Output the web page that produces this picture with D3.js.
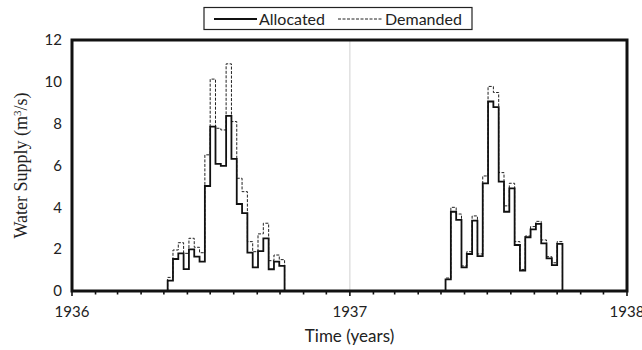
<!DOCTYPE html>
<html><head><meta charset="utf-8">
<script src="https://cdn.jsdelivr.net/npm/d3@7"></script>
<style>body{margin:0;background:#fff}svg{display:block}</style>
</head><body><svg id="c" width="642" height="350"></svg>
<script>
// ---- data ----
const years = [1936, 1937, 1938];
const yTicks = [0, 2, 4, 6, 8, 10, 12];
const start1936 = "1936-05-06";
const start1937 = "1937-05-07";
const allocated1936 = [0.50, 1.53, 1.80, 1.05, 1.99, 1.64, 1.40, 5.02, 7.86, 6.08, 5.98, 8.37, 6.32, 4.16, 3.72, 1.83, 1.13, 1.91, 2.52, 1.04, 1.40, 1.20];
const demanded1936  = [0.65, 1.96, 2.31, 1.80, 2.52, 2.09, 1.83, 6.51, 10.13, 7.78, 7.70, 10.86, 8.10, 5.39, 4.75, 2.36, 1.88, 2.73, 3.24, 1.45, 1.72, 1.50];
const allocated1937 = [0.56, 3.79, 3.40, 1.13, 1.77, 3.36, 1.67, 5.15, 9.06, 8.79, 5.23, 3.79, 4.91, 2.20, 0.97, 2.57, 2.95, 3.21, 2.28, 1.56, 1.24, 2.25];
const demanded1937  = [0.62, 4.00, 3.68, 1.20, 1.88, 3.59, 1.77, 5.50, 9.78, 9.49, 5.66, 4.07, 5.15, 2.36, 1.03, 2.63, 3.08, 3.33, 2.44, 1.64, 1.35, 2.36];

// ---- layout ----
const svg = d3.select("#c");
const m = {l: 72, r: 15, t: 40, b: 59};
const W = 642 - m.l - m.r, H = 350 - m.t - m.b;
const g = svg.append("g").attr("transform", `translate(${m.l},${m.t})`);

const x = d3.scaleTime().domain([new Date(years[0],0,1), new Date(years[years.length-1],0,1)]).range([0, W]);
const y = d3.scaleLinear().domain([0, 12]).range([H, 0]);

// gridline at middle year
g.append("line").attr("x1", x(new Date(1937,0,1))).attr("x2", x(new Date(1937,0,1)))
  .attr("y1", 0).attr("y2", H).attr("stroke", "#d0d0d0").attr("stroke-width", 1);

const parse = d3.timeParse("%Y-%m-%d");
function series(startStr, vals) {
  const s = parse(startStr);
  const pts = [{d: s, v: 0}];
  vals.forEach((v, i) => pts.push({d: d3.timeDay.offset(s, 7 * i), v}));
  pts.push({d: d3.timeDay.offset(s, 7 * vals.length), v: 0});
  return pts;
}
const line = d3.line().x(p => x(p.d)).y(p => y(p.v)).curve(d3.curveStepAfter);

[[start1936, demanded1936], [start1937, demanded1937]].forEach(([s, v]) => {
  g.append("path").datum(series(s, v)).attr("d", line).attr("fill", "none")
   .attr("stroke", "#222").attr("stroke-width", 1).attr("stroke-dasharray", "3,1.5");
});
[[start1936, allocated1936], [start1937, allocated1937]].forEach(([s, v]) => {
  g.append("path").datum(series(s, v)).attr("d", line).attr("fill", "none")
   .attr("stroke", "#111").attr("stroke-width", 1.8);
});

// month ticks
const months = d3.timeMonth.range(x.domain()[0], d3.timeDay.offset(x.domain()[1], 1));
g.selectAll(".mt").data(months).join("line")
  .attr("x1", d => x(d)).attr("x2", d => x(d))
  .attr("y1", H).attr("y2", d => H + (d.getMonth() === 0 ? 5 : 3.5))
  .attr("stroke", "#111").attr("stroke-width", 1.6);

// frame
g.append("rect").attr("x", 0).attr("y", 0).attr("width", W).attr("height", H)
  .attr("fill", "none").attr("stroke", "#111").attr("stroke-width", 3);

// labels
g.selectAll(".xl").data(years).join("text")
  .attr("x", d => x(new Date(d,0,1))).attr("y", H + 26)
  .attr("text-anchor", "middle").attr("font-family", "Lato, sans-serif").attr("font-size", 15)
  .attr("fill", "#222").text(d => d);
g.selectAll(".yl").data(yTicks).join("text")
  .attr("x", -10).attr("y", d => y(d)).attr("dy", "0.35em")
  .attr("text-anchor", "end").attr("font-family", "Lato, sans-serif").attr("font-size", 15)
  .attr("fill", "#222").text(d => d);

// axis titles
svg.append("text").attr("x", m.l + W / 2).attr("y", 342).attr("text-anchor", "middle")
  .attr("font-family", "Lato, sans-serif").attr("font-size", 17).attr("fill", "#222").text("Time (years)");
const yt = svg.append("text").attr("transform", `translate(27,${m.t + H / 2}) rotate(-90)`)
  .attr("text-anchor", "middle").attr("font-family", "'Liberation Serif', serif").attr("font-size", 18).attr("fill", "#222");
yt.append("tspan").text("Water Supply (m");
yt.append("tspan").attr("baseline-shift", "super").attr("font-size", 11).text("3");
yt.append("tspan").text("/s)");

// legend
const lg = svg.append("g");
lg.append("rect").attr("x", 204).attr("y", 7.5).attr("width", 268).attr("height", 22)
  .attr("fill", "#fff").attr("stroke", "#222").attr("stroke-width", 1.2);
lg.append("line").attr("x1", 214).attr("x2", 257).attr("y1", 19).attr("y2", 19).attr("stroke", "#111").attr("stroke-width", 1.8);
lg.append("text").attr("x", 259).attr("y", 24.5).attr("font-family", "Lato, sans-serif").attr("font-size", 16).attr("fill", "#222").text("Allocated");
lg.append("line").attr("x1", 338).attr("x2", 382).attr("y1", 19).attr("y2", 19).attr("stroke", "#222").attr("stroke-width", 1).attr("stroke-dasharray", "3,1.5");
lg.append("text").attr("x", 385).attr("y", 24.5).attr("font-family", "Lato, sans-serif").attr("font-size", 16).attr("fill", "#222").text("Demanded");
</script></body></html>
